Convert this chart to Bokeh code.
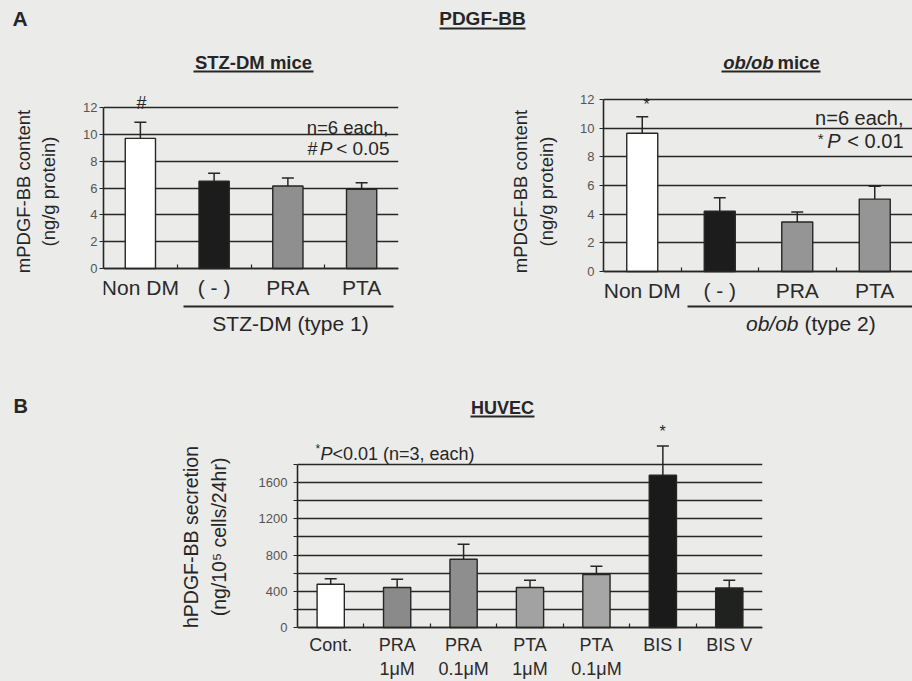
import numpy as np
from bokeh.plotting import figure
from bokeh.models import (Range1d, FixedTicker, Label, Whisker, TeeHead, ColumnDataSource,
                          Arrow, LinearAxis)
from bokeh.layouts import column, row
from bokeh.embed import file_html
from bokeh.resources import INLINE

# ---------------- data ----------------
mouse_groups = ["Non DM", "( - )", "PRA", "PTA"]
stz_values = [9.7, 6.5, 6.15, 5.9]
stz_errors = [1.2, 0.6, 0.6, 0.5]
ob_values = [9.65, 4.2, 3.45, 5.05]
ob_errors = [1.15, 0.95, 0.7, 0.9]
mouse_yticks = [0, 2, 4, 6, 8, 10, 12]

huvec_groups = ["Cont.", "PRA\n1μM", "PRA\n0.1μM", "PTA\n1μM", "PTA\n0.1μM", "BIS I", "BIS V"]
huvec_values = [478, 441, 754, 441, 585, 1681, 437]
huvec_errors = [59, 92, 165, 81, 92, 323, 85]
huvec_yticks = [0, 400, 800, 1200, 1600]
huvec_minor = [200, 600, 1000, 1400, 1800]

# ---------------- styles ----------------
BG = "#ebebe9"
INK = "#262626"
FONT = "Liberation Sans"
stz_colors = ["#ffffff", "#1c1c1c", "#8f8f8f", "#8f8f8f"]
ob_colors = ["#ffffff", "#1c1c1c", "#959595", "#959595"]
huvec_colors = ["#ffffff", "#8a8a8a", "#8e8e8e", "#a2a2a2", "#a6a6a6", "#1a1a1a", "#1f221f"]


class Panel:
    """A figure whose frame sits at given page-pixel positions."""

    def __init__(self, canvas, frame, xr, yr, **kw):
        cx, cy, cw, ch = canvas
        fl, fr, ft, fb = frame
        self.frame = frame
        self.xr = xr
        self.yr = yr
        self.p = figure(width=cw, height=ch, x_range=Range1d(*xr), y_range=Range1d(*yr),
                        min_border_left=fl - cx, min_border_right=cx + cw - fr,
                        min_border_top=ft - cy, min_border_bottom=cy + ch - fb,
                        output_backend="svg", toolbar_location=None, title=None,
                        background_fill_color=BG, border_fill_color=BG,
                        outline_line_color=None, **kw)

    def x(self, px):
        fl, fr, ft, fb = self.frame
        return self.xr[0] + (px - fl) / (fr - fl) * (self.xr[1] - self.xr[0])

    def y(self, py):
        fl, fr, ft, fb = self.frame
        return self.yr[0] + (fb - py) / (fb - ft) * (self.yr[1] - self.yr[0])

    def text(self, px, py, s, size, style="normal", align="center", color=INK):
        self.p.add_layout(Label(x=self.x(px), y=self.y(py), text=s, text_font=FONT,
                                text_font_size=f"{size}px", text_font_style=style,
                                text_align=align, text_baseline="middle",
                                text_color=color))

    def hline(self, px0, px1, py, width=2.0):
        self.p.add_layout(Arrow(start=None, end=None, x_start=self.x(px0), y_start=self.y(py),
                                x_end=self.x(px1), y_end=self.y(py),
                                line_width=width, line_color=INK))

    def side_label(self, label, standoff, size):
        ax = LinearAxis(ticker=FixedTicker(ticks=[]), axis_line_color=None,
                        major_tick_line_color=None, minor_tick_line_color=None,
                        major_tick_in=0, major_tick_out=0, minor_tick_in=0, minor_tick_out=0,
                        major_label_standoff=0,
                        axis_label=label, axis_label_standoff=standoff,
                        axis_label_text_font=FONT, axis_label_text_font_size=f"{size}px",
                        axis_label_text_font_style="normal", axis_label_text_color=INK)
        self.p.add_layout(ax, "left")


def value_range(frame, zero_py, px_per_unit):
    """y range so that value 0 sits at page row zero_py."""
    fl, fr, ft, fb = frame
    return (-(fb - zero_py) / px_per_unit, (zero_py - ft) / px_per_unit)


def bars(panel, groups, values, errors, colors, yticks, minor=None, bar_width=0.4,
         label_size=20, label_standoff=6, tick_size=13, tick_standoff=3,
         line_height=1.2, ybounds=None):
    p = panel.p
    xs = list(range(len(groups)))
    upper = list(np.array(values, dtype=float) + np.array(errors, dtype=float))
    src = ColumnDataSource(dict(x=xs, top=values, upper=upper, color=colors))
    p.vbar(x="x", top="top", bottom=0, width=bar_width, source=src,
           fill_color="color", line_color=INK, line_width=1.4)
    p.add_layout(Whisker(base="x", lower="top", upper="upper", source=src, dimension="height",
                         line_color=INK, line_width=1.5, lower_head=None,
                         upper_head=TeeHead(size=12, line_color=INK, line_width=1.5)))
    # x axis at value 0: labels at bar centres, small ticks between groups
    xa = p.xaxis[0]
    xa.fixed_location = 0
    xa.ticker = FixedTicker(ticks=xs, minor_ticks=[i + 0.5 for i in xs[:-1]])
    xa.major_label_overrides = {i: g for i, g in zip(xs, groups)}
    xa.major_tick_line_color = None
    xa.major_tick_in = 0
    xa.major_tick_out = 0
    xa.minor_tick_in = 4
    xa.minor_tick_out = 0
    xa.minor_tick_line_color = INK
    xa.minor_tick_line_width = 1.2
    xa.axis_line_color = INK
    xa.axis_line_width = 1.6
    xa.major_label_text_font = FONT
    xa.major_label_text_font_size = f"{label_size}px"
    xa.major_label_text_color = "#2a2a2a"
    xa.major_label_standoff = label_standoff
    xa.major_label_text_line_height = line_height
    # y axis
    ya = p.yaxis[0]
    ya.ticker = FixedTicker(ticks=yticks, minor_ticks=minor or [])
    ya.axis_line_color = INK
    ya.axis_line_width = 1.6
    ya.major_tick_in = 0
    ya.major_tick_out = 4
    ya.major_tick_line_color = INK
    ya.minor_tick_in = 0
    ya.minor_tick_out = 4 if minor else 0
    ya.minor_tick_line_color = INK
    ya.major_label_text_font = FONT
    ya.major_label_text_font_size = f"{tick_size}px"
    ya.major_label_text_color = "#555555"
    ya.major_label_standoff = tick_standoff
    ya.bounds = ybounds
    p.xgrid.visible = False
    p.ygrid.grid_line_color = INK
    p.ygrid.grid_line_width = 1.7
    if minor:
        p.ygrid.minor_grid_line_color = INK
        p.ygrid.minor_grid_line_width = 1.7


# ---------------- header strip ----------------
head = Panel((0, 0, 912, 40), (0, 912, 0, 40), (0, 912), (40, 0),
             x_axis_type=None, y_axis_type=None)
head.text(12, 18, "A", 21, "bold", align="left")
head.text(482, 18, "PDGF-BB", 19, "bold")
head.hline(439, 525, 28, 2)

# ---------------- panel A, STZ-DM ----------------
fa1 = (103, 398, 44, 338)
a1 = Panel((0, 40, 456, 300), fa1, (-0.5, 3.5), value_range(fa1, 268, 161 / 12.0))
bars(a1, mouse_groups, stz_values, stz_errors, stz_colors, mouse_yticks,
     bar_width=0.41, label_size=21, label_standoff=7, tick_standoff=2,
     ybounds=(0, max(mouse_yticks)))
a1.side_label("(ng/g protein)", 22, 18.5)
a1.side_label("mPDGF-BB content", 1, 18.5)
a1.text(253, 62, "STZ-DM mice", 18.5, "bold")
a1.hline(193, 313, 71, 2)
a1.text(141, 102, "#", 18)
a1.text(388, 127, "n=6 each,", 18.5, align="right")
a1.text(389, 148, "< 0.05", 19, align="right")
a1.text(332, 148, "P", 19, "italic", align="right")
a1.text(317, 148, "#", 18, align="right")
a1.hline(183, 393, 306, 2)
a1.text(290, 323, "STZ-DM (type 1)", 21)

# ---------------- panel A, ob/ob ----------------
fa2 = (603, 912, 44, 338)
a2 = Panel((456, 40, 456, 300), fa2, (-0.5, -0.5 + (912 - 603) / 77.5),
           value_range(fa2, 271, 172 / 12.0))
bars(a2, mouse_groups, ob_values, ob_errors, ob_colors, mouse_yticks,
     bar_width=0.4, label_size=21, label_standoff=7, tick_standoff=5,
     ybounds=(0, max(mouse_yticks)))
a2.side_label("(ng/g protein)", 21, 18.5)
a2.side_label("mPDGF-BB content", 2, 18.5)
a2.text(773, 62, "ob/ob", 18.5, "bold italic", align="right")
a2.text(777, 62, "mice", 18.5, "bold", align="left")
a2.hline(721, 820, 71, 2)
a2.text(646, 104, "*", 16)
a2.text(903, 117, "n=6 each,", 20, align="right")
a2.text(903, 140, "< 0.01", 20, align="right")
a2.text(840, 140, "P", 20, "italic", align="right")
a2.text(823, 138, "*", 15, align="right")
a2.hline(687, 912, 306, 2)
a2.text(798, 323, "ob/ob", 21, "italic", align="right")
a2.text(804, 323, "(type 2)", 21, align="left")

# ---------------- panel B, HUVEC ----------------
fbs = (0, 150, 392, 681)
bstrip = Panel((0, 340, 150, 341), fbs, (0, 150), (681, 392),
               x_axis_type=None, y_axis_type=None)
bstrip.text(13, 405, "B", 20, "bold", align="left")

fb = (297, 762, 392, 681)
b = Panel((150, 340, 762, 341), fb, (-0.5, 6.5), value_range(fb, 627, 163 / max(huvec_minor)))
bars(b, huvec_groups, huvec_values, huvec_errors, huvec_colors, huvec_yticks,
     minor=huvec_minor, bar_width=0.41, label_size=18, label_standoff=7,
     tick_size=13, tick_standoff=6, line_height=1.2, ybounds=(0, max(huvec_minor)))
b.side_label("(ng/10⁵ cells/24hr)", 26, 19.5)
b.side_label("hPDGF-BB secretion", 3, 19.5)
b.text(502, 407, "HUVEC", 18, "bold")
b.hline(470, 534, 416, 2)
b.text(662, 431, "*", 16)
b.text(315, 448, "*", 12, align="left")
b.text(320, 453, "P", 18, "italic", align="left")
b.text(332, 453, "<0.01 (n=3, each)", 18, align="left")

page_style = {"background-color": BG}
layout = column(row(head.p, styles=page_style),
                row(column(a1.p), column(a2.p), styles=page_style),
                row(column(bstrip.p), column(b.p), styles=page_style),
                styles=page_style)
open("out.html", "w").write(file_html(layout, INLINE))
